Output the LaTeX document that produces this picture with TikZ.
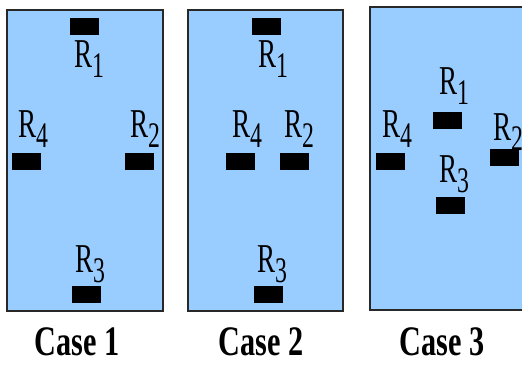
\documentclass[tikz,border=0pt]{standalone}
\usepackage{fontspec}
\setmainfont{Liberation Serif}
\usepackage{graphicx}
\definecolor{panelblue}{RGB}{153,204,255}
\definecolor{edgegray}{RGB}{40,40,40}
\newcommand{\Rlab}[1]{\scalebox{0.66}[1]{\fontsize{41}{41}\selectfont R\raisebox{-10pt}{\fontsize{36}{36}\selectfont #1}}}
\newcommand{\CaseLab}[1]{\scalebox{0.72}[1]{\fontsize{42}{42}\selectfont\bfseries Case #1}}
\begin{document}
\begin{tikzpicture}[x=1pt,y=-1pt,
  panel/.style={fill=panelblue,draw=edgegray,line width=1.1pt},
  bar/.style={fill=black,draw=none,minimum width=29pt,minimum height=17pt,inner sep=0pt},
  rlabel/.style={anchor=base west,inner sep=0pt,outer sep=0pt},
  caselabel/.style={anchor=base,inner sep=0pt}]
\useasboundingbox (0,0) rectangle (522,366);
\fill[white] (0,0) rectangle (522,366);
% panels
\draw[panel] (7,10) rectangle (163,311);
\draw[panel] (188,10) rectangle (343,311);
\draw[panel] (370,7) rectangle (526,310);
% panel 1
\node[bar] (a1) at (84,26.5) {};
\node[bar] (a4) at (26.5,162) {};
\node[bar] (a2) at (139.5,162) {};
\node[bar] (a3) at (86,294) {};
\node[rlabel] (la1) at (74,68) {\Rlab{1}};
\node[rlabel] (la4) at (18,138) {\Rlab{4}};
\node[rlabel] (la2) at (130,138) {\Rlab{2}};
\node[rlabel] (la3) at (75,272) {\Rlab{3}};
% panel 2
\node[bar] (b1) at (266.5,26.5) {};
\node[bar] (b4) at (240.5,162) {};
\node[bar] (b2) at (294.5,162) {};
\node[bar] (b3) at (268.5,294) {};
\node[rlabel] (lb1) at (258,68) {\Rlab{1}};
\node[rlabel] (lb4) at (232,138) {\Rlab{4}};
\node[rlabel] (lb2) at (284,138) {\Rlab{2}};
\node[rlabel] (lb3) at (257,272) {\Rlab{3}};
% panel 3
\node[bar] (c1) at (447.5,120.5) {};
\node[bar] (c4) at (390.5,162) {};
\node[bar] (c2) at (504,157.5) {};
\node[bar] (c3) at (450.5,206) {};
\node[rlabel] (lc1) at (439,95) {\Rlab{1}};
\node[rlabel] (lc4) at (382,138) {\Rlab{4}};
\node[rlabel] (lc2) at (493,141) {\Rlab{2}};
\node[rlabel] (lc3) at (439,183) {\Rlab{3}};
% case labels
\node[caselabel] (case1) at (77,355) {\CaseLab{1}};
\node[caselabel] (case2) at (261,355) {\CaseLab{2}};
\node[caselabel] (case3) at (442,355) {\CaseLab{3}};
\end{tikzpicture}
\end{document}
